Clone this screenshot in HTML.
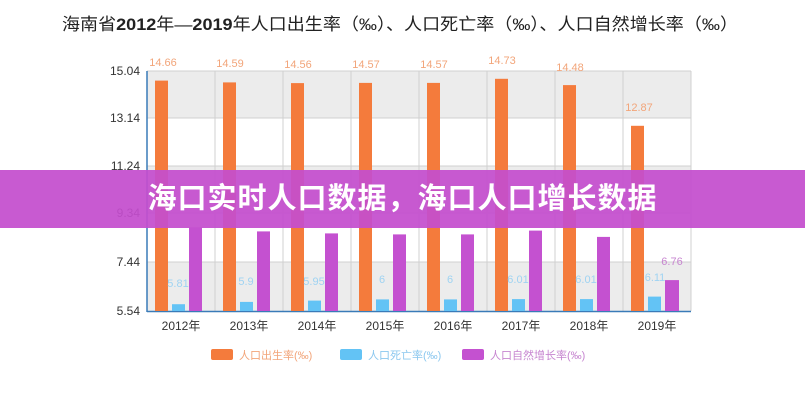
<!DOCTYPE html>
<html><head><meta charset="utf-8"><style>
html,body{margin:0;padding:0;background:#fff;}
body{width:805px;height:400px;overflow:hidden;position:relative;font-family:"Liberation Sans","Noto Sans CJK SC",sans-serif;}
.banner{position:absolute;left:0;top:170px;width:805px;height:58px;background:rgba(196,78,206,0.93);color:#fff;font-weight:bold;font-size:29px;line-height:58px;text-align:center;font-family:"Liberation Sans","Noto Sans CJK SC",sans-serif;letter-spacing:1px;text-indent:0px;}
</style></head><body>
<svg width="805" height="400" style="position:absolute;left:0;top:0" font-family="Liberation Sans, Noto Sans CJK SC, sans-serif">
<text x="400" y="30" text-anchor="middle" font-size="17" fill="#222" textLength="676" lengthAdjust="spacingAndGlyphs">海南省<tspan font-weight="bold">2012</tspan>年—<tspan font-weight="bold">2019</tspan>年人口出生率（‰）、人口死亡率（‰）、人口自然增长率（‰）</text>
<rect x="147" y="71" width="544" height="47" fill="#ececec"/>
<rect x="147" y="166" width="544" height="47" fill="#ececec"/>
<rect x="147" y="262" width="544" height="49" fill="#ececec"/>
<g stroke="#d0d0d0" stroke-width="1">
<line x1="147" y1="71" x2="691" y2="71"/><line x1="147" y1="118" x2="691" y2="118"/><line x1="147" y1="166" x2="691" y2="166"/><line x1="147" y1="213" x2="691" y2="213"/><line x1="147" y1="262" x2="691" y2="262"/>
<line x1="215" y1="71" x2="215" y2="311"/><line x1="283" y1="71" x2="283" y2="311"/><line x1="351" y1="71" x2="351" y2="311"/><line x1="419" y1="71" x2="419" y2="311"/><line x1="487" y1="71" x2="487" y2="311"/><line x1="555" y1="71" x2="555" y2="311"/><line x1="623" y1="71" x2="623" y2="311"/><line x1="691" y1="71" x2="691" y2="311"/>
</g>
<line x1="147" y1="71" x2="147" y2="312" stroke="#3a7bb8" stroke-width="1.5"/>
<line x1="147" y1="311.5" x2="691" y2="311.5" stroke="#3a7bb8" stroke-width="1.5"/>
<g font-size="12" fill="#333" text-anchor="end">
<text x="140" y="75">15.04</text><text x="140" y="122">13.14</text><text x="140" y="170">11.24</text><text x="140" y="217">9.34</text><text x="140" y="266">7.44</text><text x="140" y="315">5.54</text>
</g>
<g fill="#f47b3c">
<rect x="155" y="80.6" width="13" height="230.4"/><rect x="223" y="82.4" width="13" height="228.6"/><rect x="291" y="83.1" width="13" height="227.9"/><rect x="359" y="82.9" width="13" height="228.1"/><rect x="427" y="82.9" width="13" height="228.1"/><rect x="495" y="78.8" width="13" height="232.2"/><rect x="563" y="85.1" width="13" height="225.9"/><rect x="631" y="125.8" width="13" height="185.2"/>
</g>
<g fill="#63c3f5">
<rect x="172" y="304.2" width="13" height="6.8"/><rect x="240" y="301.9" width="13" height="9.1"/><rect x="308" y="300.6" width="13" height="10.4"/><rect x="376" y="299.4" width="13" height="11.6"/><rect x="444" y="299.4" width="13" height="11.6"/><rect x="512" y="299.1" width="13" height="11.9"/><rect x="580" y="299.1" width="13" height="11.9"/><rect x="648" y="296.6" width="13" height="14.4"/>
</g>
<g fill="#c451d0">
<rect x="189" y="227.4" width="13" height="83.6"/><rect x="257" y="231.4" width="13" height="79.6"/><rect x="325" y="233.4" width="13" height="77.6"/><rect x="393" y="234.4" width="13" height="76.6"/><rect x="461" y="234.4" width="13" height="76.6"/><rect x="529" y="230.6" width="13" height="80.4"/><rect x="597" y="236.9" width="13" height="74.1"/><rect x="665" y="280.1" width="14" height="30.9"/>
</g>
<g font-size="11" fill="#f2a57a" text-anchor="middle">
<text x="163" y="66">14.66</text><text x="230" y="67">14.59</text><text x="298" y="68">14.56</text><text x="366" y="68">14.57</text><text x="434" y="68">14.57</text><text x="502" y="64">14.73</text><text x="570" y="71">14.48</text><text x="639" y="111">12.87</text>
</g>
<g font-size="11" fill="#9fd3f2" text-anchor="middle">
<text x="178" y="287">5.81</text><text x="246" y="285">5.9</text><text x="314" y="285">5.95</text><text x="382" y="283">6</text><text x="450" y="283">6</text><text x="518" y="283">6.01</text><text x="586" y="283">6.01</text><text x="655" y="281">6.11</text>
</g>
<text x="672" y="265" font-size="11" fill="#c786d0" text-anchor="middle">6.76</text>
<g font-size="12" fill="#333" text-anchor="middle">
<text x="181" y="330">2012年</text><text x="249" y="330">2013年</text><text x="317" y="330">2014年</text><text x="385" y="330">2015年</text><text x="453" y="330">2016年</text><text x="521" y="330">2017年</text><text x="589" y="330">2018年</text><text x="657" y="330">2019年</text>
</g>
<g font-size="11">
<rect x="211" y="349" width="22" height="11" rx="2" fill="#f47b3c"/><text x="239" y="359" fill="#f2a57a">人口出生率(‰)</text>
<rect x="340" y="349" width="22" height="11" rx="2" fill="#63c3f5"/><text x="368" y="359" fill="#8cc8ef">人口死亡率(‰)</text>
<rect x="462" y="349" width="22" height="11" rx="2" fill="#c451d0"/><text x="490" y="359" fill="#c786d0">人口自然增长率(‰)</text>
</g>
</svg>
<div class="banner">海口实时人口数据，海口人口增长数据</div>
</body></html>
